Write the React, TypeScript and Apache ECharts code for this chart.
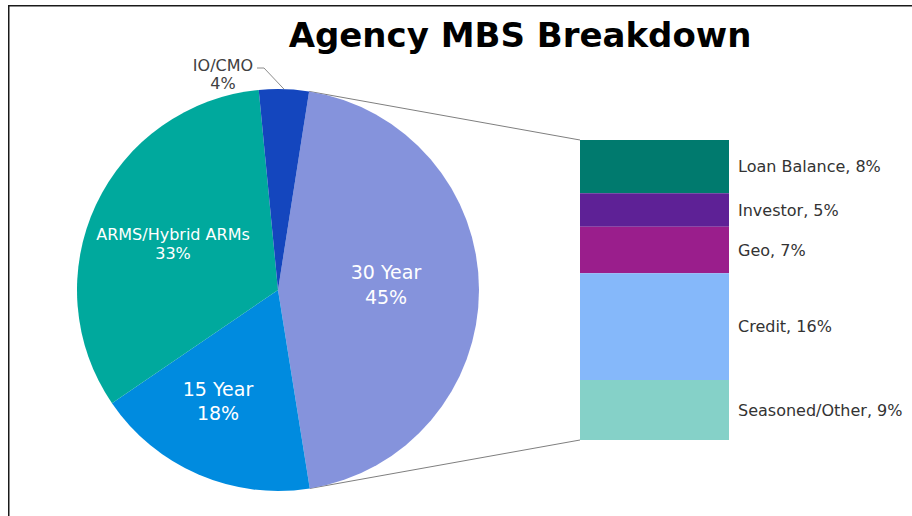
import React, { useEffect, useRef } from "react";
import * as echarts from "echarts";

const categories = ["30 Year", "15 Year", "ARMS/Hybrid ARMs", "IO/CMO"];
const shares = [45, 18, 33, 4];
const pieColors = ["#8593DC", "#008BDF", "#00A99D", "#1446BE"];

const breakdownNames = ["Loan Balance", "Investor", "Geo", "Credit", "Seasoned/Other"];
const breakdownValues = [8, 5, 7, 16, 9];
const breakdownColors = ["#007A6E", "#5E2196", "#9A1E8C", "#85B8FA", "#85D1C8"];

const titleText = "Agency MBS Breakdown";

const FONT = "DejaVu Sans";
const PIE_CX = 278;
const PIE_CY = 290;
const PIE_R = 201;
const START_ANGLE = 81.1;
const GRID_LEFT = 580;
const GRID_TOP = 140;
const GRID_W = 149;
const GRID_H = 300;

const pieLabelPos = [
  [386, 284],
  [218, 401],
  [173, 244],
  [223, 74],
];
const pieLabelStyle = [
  { fontSize: 19, lineHeight: 25, color: "#ffffff" },
  { fontSize: 19, lineHeight: 24, color: "#ffffff" },
  { fontSize: 16, lineHeight: 19, color: "#ffffff" },
  { fontSize: 16, lineHeight: 18, color: "#404040" },
];

export default function App() {
  const ref = useRef<HTMLDivElement>(null);

  useEffect(() => {
    if (!ref.current) return;
    const chart = echarts.init(ref.current, null, { renderer: "svg" });
    const total = breakdownValues.reduce((a, b) => a + b, 0);
    const shareSum = shares.reduce((a, b) => a + b, 0);

    const pieData = categories.map((name, i) => ({
      name,
      value: shares[i],
      itemStyle: { color: pieColors[i] },
      label: {
        show: true,
        position: i === 3 ? "outside" : "inside",
        formatter: "{b}\n{c}%",
        fontFamily: FONT,
        ...pieLabelStyle[i],
      },
      labelLine: {
        show: i === 3,
        lineStyle: { color: "#8c8c8c", width: 1 },
      },
    }));

    const barSeries = breakdownNames.map((name, i) => ({
      type: "bar",
      name,
      stack: "breakdown",
      barWidth: "100%",
      data: [breakdownValues[i]],
      itemStyle: { color: breakdownColors[i] },
      label: {
        show: true,
        position: "right",
        distance: 9,
        formatter: "{a}, {c}%",
        fontFamily: FONT,
        fontSize: 16,
        color: "#333333",
      },
    }));

    chart.setOption({
      animation: false,
      title: {
        text: titleText,
        left: 520,
        top: 18,
        textAlign: "center",
        padding: 0,
        textStyle: {
          fontFamily: FONT,
          fontWeight: "bold",
          fontSize: 34,
          color: "#000000",
        },
      },
      grid: { left: GRID_LEFT, top: GRID_TOP, width: GRID_W, height: GRID_H },
      xAxis: { type: "category", data: ["30 Year"], show: false },
      yAxis: { type: "value", min: 0, max: total, inverse: true, show: false },
      series: [
        {
          type: "pie",
          center: [PIE_CX, PIE_CY],
          radius: PIE_R,
          startAngle: START_ANGLE,
          clockwise: true,
          avoidLabelOverlap: false,
          data: pieData,
          labelLayout: (params: any) => {
            const i = params.dataIndex;
            const pos = pieLabelPos[i];
            const out: any = {
              x: pos[0],
              y: pos[1],
              align: "center",
              verticalAlign: "middle",
            };
            if (i === 3 && params.labelLinePoints) {
              out.labelLinePoints = [
                params.labelLinePoints[0],
                [264, 68],
                [257, 68],
              ];
            }
            return out;
          },
        },
        ...barSeries,
      ],
    });

    const a0 = (START_ANGLE * Math.PI) / 180;
    const a1 = ((START_ANGLE - (shares[0] / shareSum) * 360) * Math.PI) / 180;
    const p0 = [PIE_CX + PIE_R * Math.cos(a0), PIE_CY - PIE_R * Math.sin(a0)];
    const p1 = [PIE_CX + PIE_R * Math.cos(a1), PIE_CY - PIE_R * Math.sin(a1)];
    const yTop = chart.convertToPixel({ yAxisIndex: 0 }, 0) as number;
    const yBottom = chart.convertToPixel({ yAxisIndex: 0 }, total) as number;

    chart.setOption({
      graphic: [
        {
          type: "rect",
          id: "frame",
          shape: { x: 8.75, y: 5.75, width: 1000, height: 1000 },
          style: { fill: "none", stroke: "#1a1a1a", lineWidth: 1.5 },
          silent: true,
        },
        {
          type: "line",
          id: "c1",
          shape: { x1: p0[0], y1: p0[1], x2: GRID_LEFT, y2: yTop },
          style: { stroke: "#7f7f7f", lineWidth: 1 },
          silent: true,
        },
        {
          type: "line",
          id: "c2",
          shape: { x1: p1[0], y1: p1[1], x2: GRID_LEFT, y2: yBottom },
          style: { stroke: "#7f7f7f", lineWidth: 1 },
          silent: true,
        },
      ],
    });

    return () => chart.dispose();
  }, []);

  return (
    <div
      ref={ref}
      style={{ position: "absolute", left: 0, top: 0, width: 912, height: 516, background: "#ffffff" }}
    />
  );
}
